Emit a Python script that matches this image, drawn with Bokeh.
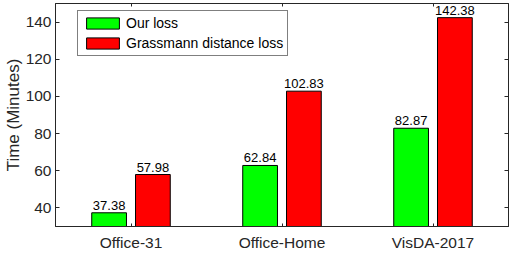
from bokeh.plotting import figure
from bokeh.models import (ColumnDataSource, FactorRange, Range1d, FixedTicker, LinearAxis,
                          CategoricalAxis, Legend, LegendItem, CustomJSTickFormatter, Title)
from bokeh.transform import dodge
from bokeh.core.properties import value
from bokeh.embed import file_html
from bokeh.resources import INLINE

categories = ["Office-31", "Office-Home", "VisDA-2017"]
our_loss = [37.38, 62.84, 82.87]
grassmann_loss = [57.98, 102.83, 142.38]
series_names = ["Our loss", "Grassmann distance loss"]
y_ticks = [40, 60, 80, 100, 120, 140]
y_label = "Time (Minutes)"

FONT = "Liberation Sans"
AX = "#262626"

src = ColumnDataSource(dict(
    cat=categories,
    ours=our_loss,
    grass=grassmann_loss,
    ours_lbl=[f"{v:.2f}" for v in our_loss],
    grass_lbl=[f"{v:.2f}" for v in grassmann_loss],
))

p = figure(x_range=FactorRange(factors=categories, range_padding=0),
           y_range=Range1d(30, 150),
           width=512, height=253, output_backend="svg", toolbar_location=None,
           min_border_left=55, min_border_right=4, min_border_top=3, min_border_bottom=27)

p.xgrid.visible = False
p.ygrid.visible = False
p.outline_line_color = AX
p.outline_line_width = 1
p.background_fill_color = "white"
p.border_fill_color = "white"

W = 0.23
OFF = 0.145
r1 = p.vbar(x=dodge("cat", -OFF, range=p.x_range), top="ours", bottom=0, width=W,
            source=src, fill_color="#00ff00", line_color="black", line_width=1)
r2 = p.vbar(x=dodge("cat", OFF, range=p.x_range), top="grass", bottom=0, width=W,
            source=src, fill_color="#ff0000", line_color="black", line_width=1)

for col, ycol, off in (("ours_lbl", "ours", -OFF), ("grass_lbl", "grass", OFF)):
    p.text(x=dodge("cat", off, range=p.x_range), y=ycol, text=col, source=src,
           text_align="center", text_baseline="bottom", y_offset=-3,
           text_font=value(FONT), text_font_size="13px", text_color="black")

# main axes
xa = p.xaxis[0]
xa.major_tick_in = 3
xa.major_tick_out = 0
xa.minor_tick_out = 0
xa.axis_line_color = AX
xa.major_tick_line_color = AX
xa.major_label_text_font = FONT
xa.major_label_text_font_size = "15.5px"
xa.major_label_text_color = AX
xa.major_label_standoff = 7

ya = p.yaxis[0]
ya.ticker = FixedTicker(ticks=y_ticks)
ya.major_tick_in = 4
ya.major_tick_out = 0
ya.minor_tick_line_color = None
ya.axis_line_color = AX
ya.major_tick_line_color = AX
ya.major_label_text_font = FONT
ya.major_label_text_font_size = "15.5px"
ya.major_label_text_color = AX
ya.major_label_standoff = 4

# y label as a side title
p.add_layout(Title(text=y_label, align="center", text_font=FONT, text_font_size="17px",
                   text_font_style="normal", text_color=AX, standoff=0, offset=0,
                   text_line_height=1.0), "left")

# mirrored tick axes (right / top), no labels
ra = LinearAxis(ticker=FixedTicker(ticks=y_ticks), formatter=CustomJSTickFormatter(code="return ''"),
                major_tick_in=4, major_tick_out=0, minor_tick_line_color=None,
                axis_line_color=AX, major_tick_line_color=AX, major_label_standoff=0,
                major_label_text_font_size="0px")
p.add_layout(ra, "right")
ta = CategoricalAxis(formatter=CustomJSTickFormatter(code="return ''"),
                     major_tick_in=3, major_tick_out=0,
                     axis_line_color=AX, major_tick_line_color=AX, major_label_standoff=0,
                     major_label_text_font_size="0px")
p.add_layout(ta, "above")

legend = Legend(items=[LegendItem(label=series_names[0], renderers=[r1]),
                       LegendItem(label=series_names[1], renderers=[r2])],
                location=(22, 170), orientation="vertical",
                glyph_width=41, glyph_height=14, label_height=14,
                label_standoff=3, padding=4, spacing=4, margin=0,
                label_text_font=FONT, label_text_font_size="14px", label_text_color="black",
                label_text_line_height=1.0,
                border_line_color="black", border_line_width=1,
                background_fill_color="white", background_fill_alpha=1)
p.add_layout(legend, "center")

open("out.html", "w").write(file_html(p, INLINE))
